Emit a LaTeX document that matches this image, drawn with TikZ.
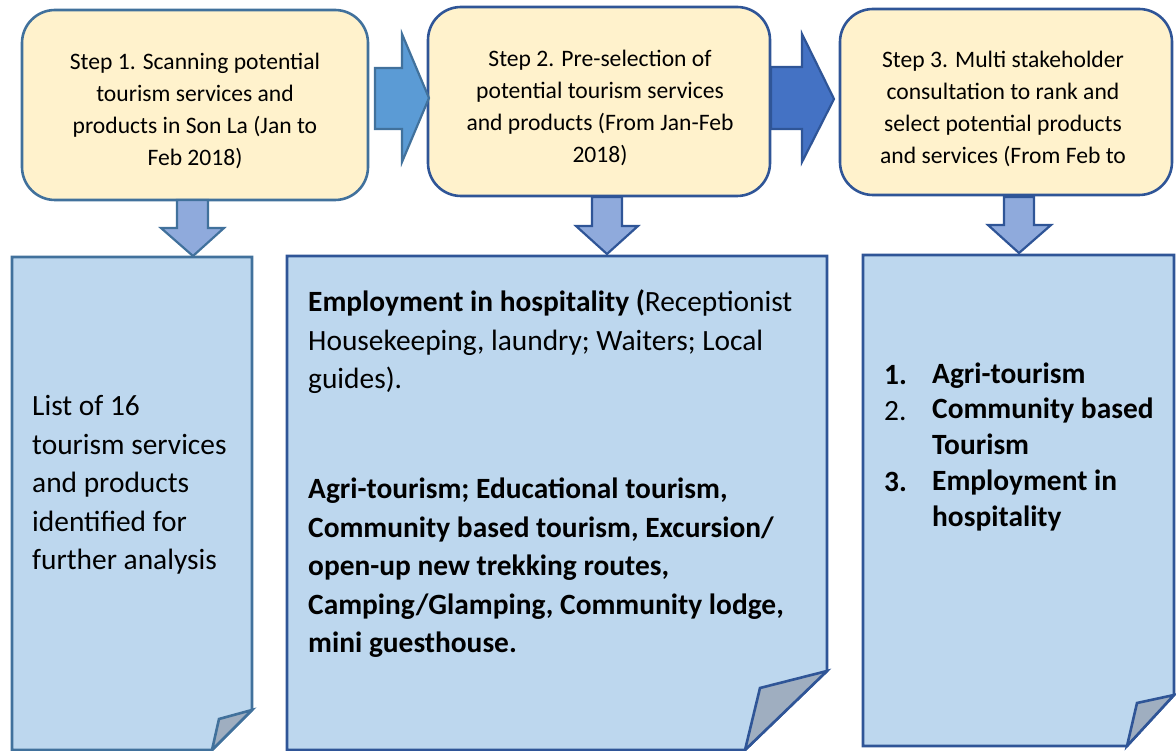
\documentclass[tikz,border=0pt]{standalone}
\usepackage{fontspec}
\setmainfont{Carlito}
\definecolor{stepfill}{HTML}{FFF2CC}
\definecolor{edgeA}{HTML}{41719C}
\definecolor{edgeB}{HTML}{2F5597}
\definecolor{arrowA}{HTML}{5B9BD5}
\definecolor{arrowB}{HTML}{4472C4}
\definecolor{downfill}{HTML}{8FAADC}
\definecolor{notefill}{HTML}{BDD7EE}
\definecolor{foldfill}{HTML}{9FAEC0}
\tikzset{
  stepbox/.style={draw=#1, fill=stepfill, line width=2.6pt, rounded corners=33pt, inner sep=0pt},
  steptext/.style={align=center, inner sep=0pt, font=\fontsize{23.6}{32}\selectfont},
  blockarrow/.style={line width=2.2pt, line join=miter},
  notebox/.style={draw=#1, fill=notefill, line width=2.6pt, line join=miter},
  fold/.style={draw=#1, fill=foldfill, line width=2.6pt, line join=miter},
  notetext/.style={align=left, inner sep=0pt, anchor=west, font=\fontsize{29.4}{38.5}\selectfont},
  listtext/.style={align=left, inner sep=0pt, anchor=west, font=\fontsize{29.4}{35.75}\selectfont},
}
\begin{document}
\begin{tikzpicture}[x=1pt,y=-1pt]
\useasboundingbox (0,0) rectangle (1176,751);

% step boxes
\node[stepbox=edgeA, minimum width=346pt, minimum height=190pt] (s1) at (195,105) {};
\node[stepbox=edgeB, minimum width=342pt, minimum height=189pt] (s2) at (599,101.5) {};
\node[stepbox=edgeB, minimum width=332pt, minimum height=186pt] (s3) at (1006,102) {};

\node[steptext] (t1) at (195,111) {Step 1. Scanning potential\\tourism services and\\products in Son La (Jan to\\Feb 2018)};
\node[steptext] (t2) at (600,108) {Step 2. Pre-selection of\\potential tourism services\\and products (From Jan-Feb\\2018)};
\node[steptext] (t3) at (1003,109) {Step 3. Multi stakeholder\\consultation to rank and\\select potential products\\and services (From Feb to};

% right block arrows
\draw[blockarrow, draw=edgeA, fill=arrowA] (375,68) -- (402,68) -- (402,34) -- (429,98) -- (402,162) -- (402,129) -- (375,129) -- cycle;
\draw[blockarrow, draw=edgeB, fill=arrowB] (771,67) -- (802,67) -- (802,34) -- (834,99) -- (802,162) -- (802,129) -- (771,129) -- cycle;

% down block arrows
\draw[blockarrow, draw=edgeA, fill=downfill] (177,200) -- (208,200) -- (208,228) -- (224,228) -- (193,256) -- (161,228) -- (177,228) -- cycle;
\draw[blockarrow, draw=edgeB, fill=downfill] (592,197) -- (622,197) -- (622,226) -- (638,226) -- (607,254) -- (576,226) -- (592,226) -- cycle;
\draw[blockarrow, draw=edgeB, fill=downfill] (1004,197) -- (1034,197) -- (1034,225) -- (1051,225) -- (1019,253) -- (988,225) -- (1004,225) -- cycle;

% note boxes with folded corners
\draw[notebox=edgeA] (12,257) -- (252,257) -- (252,710) -- (212,750) -- (12,750) -- cycle;
\draw[fold=edgeA] (252,710) -- (219,719) -- (212,750) -- cycle;

\draw[notebox=edgeB] (287,256) -- (827,256) -- (827,671) -- (745,750) -- (287,750) -- cycle;
\draw[fold=edgeB] (827,671) -- (760,688) -- (745,750) -- cycle;

\draw[notebox=edgeB] (863,255) -- (1174,255) -- (1174,695) -- (1127,746) -- (863,746) -- cycle;
\draw[fold=edgeB] (1174,695) -- (1137,703) -- (1127,746) -- cycle;

% note texts
\node[notetext] (na) at (32,485) {List of 16\\tourism services\\and products\\identified for\\further analysis};
\node[notetext] (nb1) at (308,342) {\textbf{Employment in hospitality (}Receptionist\\Housekeeping, laundry; Waiters; Local\\guides).};
\node[notetext, font=\fontsize{29.4}{38.5}\selectfont\bfseries] (nb2) at (308,568) {Agri-tourism; Educational tourism,\\Community based tourism, Excursion/\\open-up new trekking routes,\\Camping/Glamping, Community lodge,\\mini guesthouse.};

\node[listtext, font=\fontsize{29.4}{35.75}\selectfont\bfseries] (nc) at (932,446.5) {Agri-tourism\\Community based\\Tourism\\Employment in\\hospitality};
\node[listtext, font=\fontsize{29.4}{30}\selectfont\bfseries] (n1) at (884,375) {1.};
\node[listtext] (n2) at (884,411) {2.};
\node[listtext, font=\fontsize{29.4}{30}\selectfont\bfseries] (n3) at (884,482) {3.};
\end{tikzpicture}
\end{document}
